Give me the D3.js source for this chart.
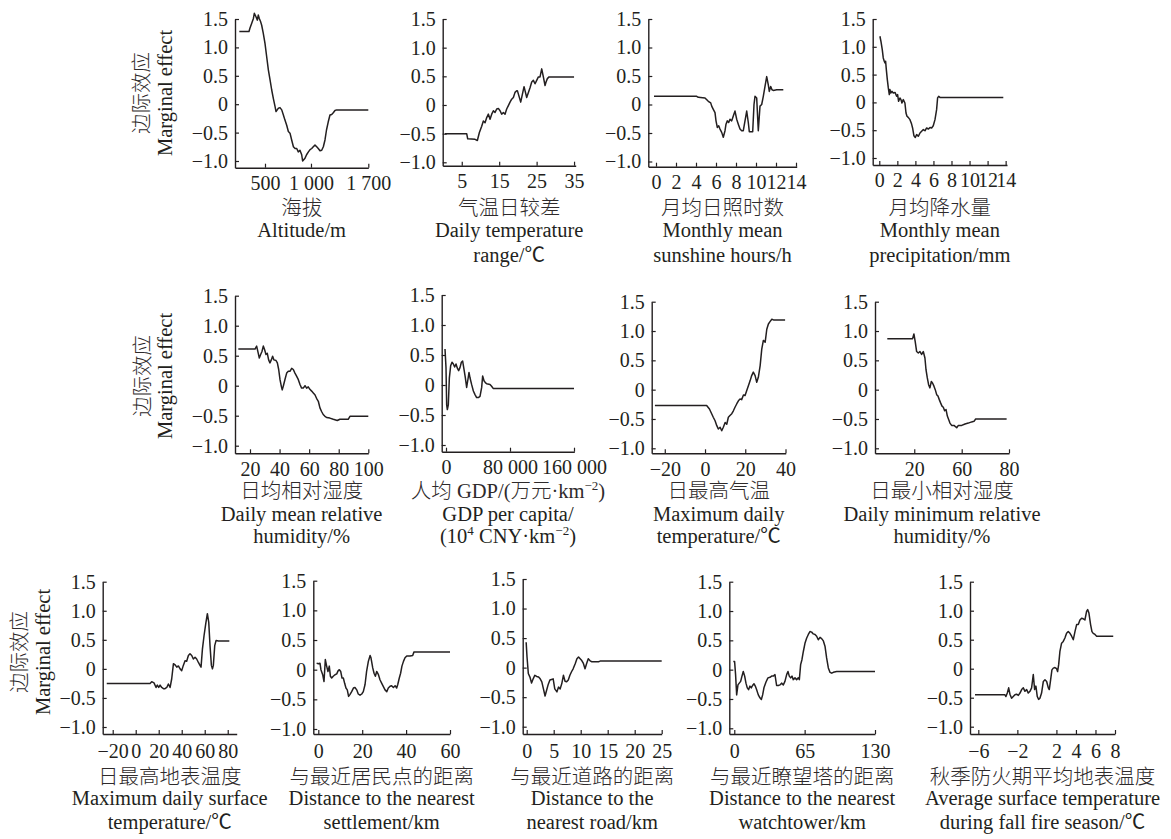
<!DOCTYPE html>
<html><head><meta charset="utf-8">
<script src="https://cdn.jsdelivr.net/npm/d3@7"></script>
<style>
html,body{margin:0;padding:0;background:#fff;}
</style></head><body>
<svg id="chart" width="1171" height="839"></svg>
<script>
// ---------------- DATA ----------------
const yTicks = [-1.0, -0.5, 0, 0.5, 1.0, 1.5];
const yTickLabels = ["−1.0", "−0.5", "0", "0.5", "1.0", "1.5"];
const yLabelZh = "边际效应";
const yLabelEn = "Marginal effect";

const altitudeX = [221,326,337,355,374,384,402,417,427,438,453,464,481,500,518,537,555,573,591,609,620,646,663,682,700,717,736,754,772,790,809,827,845,862,880,899,909,935,952,972,990,1009,1028,1049,1070,1089,1110,1131,1151,1171,1190,1211,1232,1253,1272,1293,1314,1700];
const altitudeY = [1.28,1.28,1.34,1.42,1.51,1.60,1.54,1.48,1.57,1.51,1.45,1.39,1.25,1.07,0.84,0.60,0.43,0.25,0.10,-0.04,-0.13,-0.07,-0.06,-0.10,-0.19,-0.28,-0.37,-0.48,-0.51,-0.63,-0.75,-0.78,-0.78,-0.84,-0.81,-0.89,-1.0,-0.95,-0.89,-0.84,-0.80,-0.78,-0.75,-0.72,-0.75,-0.78,-0.82,-0.81,-0.75,-0.63,-0.45,-0.31,-0.19,-0.18,-0.15,-0.11,-0.10,-0.10];
const altitudeTicks = [500, 1000, 1700];
const altitudeTickLabels = ["500", "1 000", "1 700"];

const tempRangeX = [0.53,6.32,6.59,8.55,9.17,9.71,10.33,10.77,11.22,11.67,12.11,12.56,13.0,13.45,13.89,14.34,14.78,15.23,15.67,16.12,16.56,17.0,17.45,17.9,18.34,18.79,19.23,19.68,19.86,20.75,21.64,22.35,23.24,23.69,24.13,24.58,25.02,25.47,25.91,26.36,26.8,27.25,27.52,27.87,28.32,35.0];
const tempRangeY = [-0.5,-0.5,-0.59,-0.6,-0.62,-0.48,-0.37,-0.28,-0.31,-0.22,-0.16,-0.25,-0.16,-0.10,-0.13,-0.07,-0.06,-0.10,-0.16,-0.13,-0.16,-0.07,-0.01,0.05,0.10,0.13,0.22,0.25,0.25,0.05,0.32,0.13,0.30,0.40,0.43,0.37,0.43,0.49,0.49,0.63,0.49,0.34,0.40,0.46,0.49,0.49];
const tempRangeTicks = [5, 15, 25, 35];
const tempRangeTickLabels = ["5", "15", "25", "35"];

const sunshineX = [-0.2,4.07,4.23,4.9,5.23,5.47,5.57,5.73,5.9,6.0,6.13,6.27,6.4,6.57,6.73,6.9,7.0,7.13,7.27,7.4,7.57,7.73,7.9,8.07,8.23,8.4,8.57,8.73,8.9,9.07,9.23,9.33,9.67,9.8,9.9,10.07,10.23,10.4,10.57,10.73,10.9,11.07,11.23,11.33,11.47,11.6,11.73,12.07,12.73];
const sunshineY = [0.144,0.144,0.126,0.115,0.057,0.029,-0.029,-0.086,-0.144,-0.287,-0.402,-0.374,-0.431,-0.489,-0.575,-0.46,-0.345,-0.287,-0.316,-0.259,-0.287,-0.201,-0.115,-0.259,-0.345,-0.431,-0.46,-0.46,-0.287,-0.115,-0.316,-0.477,-0.477,0,0.144,0.115,-0.46,-0.029,0,0.144,0.316,0.489,0.345,0.23,0.316,0.259,0.247,0.259,0.259];
const sunshineTicks = [0, 2, 4, 6, 8, 10, 12, 14];
const sunshineTickLabels = ["0", "2", "4", "6", "8", "10", "12", "14"];

const precipX = [0.07,0.18,0.33,0.44,0.55,0.63,0.70,0.78,0.89,1.0,1.11,1.18,1.29,1.4,1.55,1.74,1.92,2.03,2.14,2.29,2.4,2.51,2.66,2.84,2.96,3.07,3.21,3.4,3.58,3.69,3.84,3.99,4.14,4.32,4.51,4.69,4.88,5.06,5.25,5.43,5.62,5.8,5.98,6.17,6.35,6.46,6.58,6.72,13.74];
const precipY = [1.19,1.10,0.95,0.80,0.74,0.71,0.74,0.59,0.41,0.26,0.14,0.23,0.17,0.20,0.17,0.18,0.11,0.14,0.02,0.08,0.05,-0.01,0.05,-0.01,-0.19,-0.25,-0.27,-0.31,-0.39,-0.46,-0.60,-0.63,-0.58,-0.61,-0.55,-0.52,-0.49,-0.51,-0.46,-0.48,-0.45,-0.46,-0.42,-0.31,-0.13,0.08,0.11,0.09,0.09];
const precipTicks = [0, 2, 4, 6, 8, 10, 12, 14];
const precipTickLabels = ["0", "2", "4", "6", "8", "10", "12", "14"];

const meanHumX = [12.1,23.4,24.5,25.6,26.3,27.2,28.1,29,29.9,30.8,31.7,32.6,33.5,34.4,35.3,36.2,37.6,38.5,39.4,40.3,41.2,41.8,42.5,43.6,44.8,45.9,47,48.2,49.3,50.4,51.5,52.7,53.8,54.9,56,57.2,58.3,59.4,60.5,61.7,62.8,63.9,65,66.2,67.3,68.4,69.5,70.7,71.8,74,76.3,79,80.8,86.4,87.6,100];
const meanHumY = [0.61,0.61,0.66,0.54,0.46,0.52,0.57,0.66,0.6,0.52,0.54,0.43,0.38,0.43,0.49,0.43,0.42,0.38,0.27,0.1,-0.01,-0.07,-0.01,0.1,0.21,0.24,0.24,0.29,0.27,0.21,0.16,0.1,0.02,-0.04,-0.04,0,-0.04,-0.02,-0.06,-0.09,-0.12,-0.15,-0.21,-0.26,-0.37,-0.43,-0.48,-0.51,-0.53,-0.54,-0.56,-0.58,-0.56,-0.56,-0.51,-0.51];
const meanHumTicks = [20, 40, 60, 80, 100];
const meanHumTickLabels = ["20", "40", "60", "80", "100"];

const gdpX = [-1250,0,830,1670,2900,4200,5800,7500,9200,10800,12500,14200,15800,17500,19200,20800,22500,24200,25800,27500,28750,30000,32000,34200,36250,38300,40400,42500,44600,45800,47500,49200,50800,55000,57000,59200,160000];
const gdpY = [0.6,0.29,-0.33,-0.41,-0.33,0.12,0.32,0.38,0.35,0.3,0.35,0.28,0.24,0.29,0.38,0.4,0.26,0.12,-0.04,0.1,0.21,0.12,0.01,-0.1,-0.16,-0.21,-0.21,-0.19,-0.04,0.15,0.07,0.04,0.02,0.01,-0.02,-0.06,-0.06];
const gdpTicks = [0, 80000, 160000];
const gdpTickLabels = ["0", "80 000", "160 000"];

const maxTempX = [-24.9,0.8,2.2,3.3,4.1,5,5.8,6.6,7.5,8.3,9.1,10,10.8,11.6,12.4,13.3,14.1,14.9,15.8,16.6,17.4,18.2,19.1,19.9,20.7,21.6,22.4,23.2,24,24.9,25.7,26.5,27.4,28.2,29,29.9,30.7,31.5,32.3,33.2,34,39.8];
const maxTempY = [-0.27,-0.27,-0.33,-0.41,-0.47,-0.53,-0.61,-0.67,-0.64,-0.7,-0.64,-0.56,-0.59,-0.47,-0.44,-0.41,-0.36,-0.3,-0.24,-0.19,-0.16,-0.17,-0.09,-0.1,-0.02,0.07,0.15,0.24,0.3,0.24,0.125,0.21,0.41,0.69,0.84,0.81,1.03,1.12,1.16,1.2,1.19,1.19];
const maxTempTicks = [-20, 0, 20, 40];
const maxTempTickLabels = ["−20", "0", "20", "40"];

const minHumX = [-2.8,18.6,19.7,20.8,22,23.4,24.8,26.2,27.6,29,29.9,31,32.1,33.2,34.4,35.5,36.6,37.7,38.9,40,41.1,42.3,43.4,44.5,45.6,46.8,47.9,49,50.1,51.5,53.5,55.8,57.2,60,61.4,62.8,64.2,65.2,65.9,79];
const minHumY = [0.87,0.87,0.95,0.82,0.65,0.625,0.65,0.6,0.65,0.54,0.34,0.2,0.085,0.03,0.14,0.11,0.06,0,-0.085,-0.11,-0.17,-0.23,-0.28,-0.3,-0.36,-0.34,-0.45,-0.51,-0.57,-0.61,-0.61,-0.65,-0.61,-0.61,-0.585,-0.57,-0.55,-0.54,-0.5,-0.5];
const minHumTicks = [20, 60, 80];
const minHumTickLabels = ["20", "60", "80"];

const surfTempX = [-25.2,12.5,13.9,15.9,17.7,18.8,20,21.2,22.6,24.1,25.5,27,28.4,29.9,31.3,32.8,34.2,35.7,37.1,38.6,40,41.4,42.9,44.3,45.8,47.2,48.7,50.1,51.6,53,54.5,55.9,56.8,58,59.4,60.9,62.3,63.5,64.6,65.8,66.7,67.5,68.7,69.9,71.9,81.4];
const surfTempY = [-0.25,-0.25,-0.22,-0.24,-0.32,-0.28,-0.32,-0.28,-0.32,-0.34,-0.34,-0.32,-0.26,-0.32,-0.17,0.09,0.07,0.03,0.05,0,-0.03,0.06,0.14,0.13,0.23,0.26,0.23,0.17,0.2,0.17,0.11,0.06,0.03,0.34,0.57,0.78,0.95,0.8,0.4,0.06,0,0.06,0.4,0.49,0.48,0.48];
const surfTempTicks = [-20, 0, 20, 40, 60, 80];
const surfTempTickLabels = ["−20", "0", "20", "40", "60", "80"];

const settleX = [-0.76,0,0.76,1.2,2,2.6,3.2,3.8,4.4,5,5.5,6.1,6.8,7.6,8.4,9,9.6,10.2,10.8,11.4,12,12.6,13.2,13.8,14.4,15.2,16,16.7,17.5,18.2,19,19.8,20.5,21.3,22,22.8,23.6,24,24.8,25.4,26,26.6,27.4,28.1,28.9,29.6,30.4,31.2,31.9,32.7,33.4,34.2,35,35.7,36.2,36.9,37.5,38.1,38.8,39.5,40.3,41.8,43,43.6,60];
const settleY = [0.11,0.1,0.11,0,-0.085,-0.2,0.17,0.06,-0.03,0.06,-0.11,-0.14,-0.11,-0.085,-0.07,-0.02,0,-0.03,-0.14,-0.14,-0.23,-0.31,-0.34,-0.45,-0.42,-0.37,-0.31,-0.3,-0.34,-0.41,-0.43,-0.41,-0.37,-0.25,-0.03,0.14,0.24,0.2,0.03,-0.06,-0.11,-0.03,-0.085,-0.17,-0.23,-0.28,-0.34,-0.37,-0.31,-0.28,-0.27,-0.3,-0.27,-0.31,-0.25,-0.14,-0.06,0.06,0.14,0.2,0.23,0.23,0.24,0.3,0.3];
const settleTicks = [0, 20, 40, 60];
const settleTickLabels = ["0", "20", "40", "60"];

const roadX = [-0.1,0.06,0.3,0.6,0.9,1.2,1.5,1.85,2.2,2.5,2.8,3.1,3.4,3.7,4,4.3,4.6,4.9,5.2,5.6,5.9,6.2,6.5,6.8,7.1,7.4,7.7,8,8.3,8.6,9,9.3,9.6,9.9,10.2,10.5,10.8,11.1,11.4,11.7,12,12.65,13.3,13.6,25];
const roadY = [0.43,0.18,-0.1,-0.16,-0.26,-0.19,-0.13,-0.15,-0.16,-0.19,-0.24,-0.36,-0.48,-0.38,-0.28,-0.21,-0.2,-0.19,-0.36,-0.41,-0.33,-0.36,-0.27,-0.13,-0.23,-0.24,-0.21,-0.13,-0.07,-0.02,0.07,0.15,0.18,0.15,0.12,0.07,-0.02,0.07,0.15,0.12,0.1,0.1,0.1,0.11,0.11];
const roadTicks = [0, 5, 10, 15, 20, 25];
const roadTickLabels = ["0", "5", "10", "15", "20", "25"];

const towerX = [-0.9,0.3,1.2,2.2,3.4,4.6,5.9,7.1,8.3,9.6,10.8,12,13.2,14.5,15.7,16.9,18.2,19.4,20.6,22.2,23.7,25,26.2,27.4,29.3,31.1,33,34.5,36,37.6,39.1,40.7,42.2,43.7,45.3,46.8,48.4,49.6,50.8,52.1,53.3,54.5,56.1,57.6,59.1,60.1,61.3,62.5,63.8,65.3,66.9,68.4,69.9,71.5,73,74.6,76.1,77.6,79.2,80.7,82.3,83.8,85.3,86.9,88.4,90,91.5,94.6,130];
const towerY = [0.14,0.14,-0.085,-0.43,-0.26,-0.23,-0.2,-0.11,-0.03,-0.11,-0.23,-0.31,-0.34,-0.28,-0.31,-0.27,-0.24,-0.28,-0.34,-0.43,-0.48,-0.51,-0.43,-0.31,-0.21,-0.14,-0.13,-0.11,-0.11,-0.085,-0.27,-0.27,-0.26,-0.23,-0.26,-0.2,-0.085,-0.03,-0.11,-0.14,-0.11,-0.17,-0.14,-0.17,-0.14,-0.17,0.085,0.17,0.31,0.45,0.54,0.6,0.65,0.64,0.61,0.6,0.57,0.51,0.55,0.53,0.49,0.4,0.2,0.03,-0.045,-0.06,-0.045,-0.03,-0.03];
const towerTicks = [0, 65, 130];
const towerTickLabels = ["0", "65", "130"];

const fallTempX = [-6.34,-3.27,-3.17,-3.03,-2.89,-2.76,-2.59,-2.42,-2.25,-2.08,-1.9,-1.73,-1.56,-1.39,-1.22,-1.05,-0.88,-0.71,-0.54,-0.37,-0.23,-0.1,0.04,0.18,0.31,0.48,0.66,0.83,1.0,1.17,1.27,1.41,1.54,1.68,1.85,2.02,2.12,2.23,2.36,2.53,2.7,2.87,3.04,3.21,3.39,3.56,3.73,3.9,4.07,4.24,4.41,4.58,4.75,4.92,5.09,5.2,5.33,5.5,5.64,5.77,5.95,6.12,7.82];
const fallTempY = [-0.45,-0.45,-0.48,-0.42,-0.33,-0.44,-0.51,-0.48,-0.45,-0.44,-0.46,-0.42,-0.36,-0.33,-0.39,-0.36,-0.42,-0.39,-0.33,-0.1,-0.36,-0.3,-0.48,-0.53,-0.51,-0.42,-0.22,-0.19,-0.22,-0.33,-0.36,-0.19,-0.02,0.01,0.02,0,-0.05,0.07,0.3,0.44,0.47,0.53,0.61,0.64,0.61,0.56,0.5,0.64,0.76,0.76,0.84,0.87,0.86,0.84,0.99,1.02,0.96,0.76,0.64,0.61,0.59,0.56,0.56];
const fallTempTicks = [-6, -2, 2, 4, 6, 8];
const fallTempTickLabels = ["−6", "−2", "2", "4", "6", "8"];

const titlesZh = ["海拔","气温日较差","月均日照时数","月均降水量","日均相对湿度","人均 GDP/(万元·km^{−2})","日最高气温","日最小相对湿度","日最高地表温度","与最近居民点的距离","与最近道路的距离","与最近瞭望塔的距离","秋季防火期平均地表温度"];
const titlesEn = [["Altitude/m"],["Daily temperature","range/℃"],["Monthly mean","sunshine hours/h"],["Monthly mean","precipitation/mm"],["Daily mean relative","humidity/%"],["GDP per capita/","(10^{4} CNY·km^{−2})"],["Maximum daily","temperature/℃"],["Daily minimum relative","humidity/%"],["Maximum daily surface","temperature/℃"],["Distance to the nearest","settlement/km"],["Distance to the","nearest road/km"],["Distance to the nearest","watchtower/km"],["Average surface temperature","during fall fire season/℃"]];

const seriesX = [altitudeX, tempRangeX, sunshineX, precipX, meanHumX, gdpX, maxTempX, minHumX, surfTempX, settleX, roadX, towerX, fallTempX];
const seriesY = [altitudeY, tempRangeY, sunshineY, precipY, meanHumY, gdpY, maxTempY, minHumY, surfTempY, settleY, roadY, towerY, fallTempY];
const xTicks = [altitudeTicks, tempRangeTicks, sunshineTicks, precipTicks, meanHumTicks, gdpTicks, maxTempTicks, minHumTicks, surfTempTicks, settleTicks, roadTicks, towerTicks, fallTempTicks];
const xTickLabels = [altitudeTickLabels, tempRangeTickLabels, sunshineTickLabels, precipTickLabels, meanHumTickLabels, gdpTickLabels, maxTempTickLabels, minHumTickLabels, surfTempTickLabels, settleTickLabels, roadTickLabels, towerTickLabels, fallTempTickLabels];

// ---------------- LAYOUT ----------------
const layout = [
  {l:235,   r:368.3, t:19,    n:161,   b:167.7, xDom:[174,500,1000,1700], xFrac:[0,0.225,0.57,1], row:0},
  {l:442.7, r:575.7, t:19,    n:162.3, b:165.7, xDom:[-0.09,35.44], row:0},
  {l:648.3, r:796.7, t:19,    n:161.5, b:166.7, xDom:[-0.77,14.07], row:0},
  {l:872.7, r:1007,  t:19,    n:158,   b:165,   xDom:[-0.73,14.15], row:0},
  {l:235,   r:368.3, t:295.7, n:445.7, b:453.3, xDom:[9.86,100], row:1},
  {l:441.7, r:574.3, t:295,   n:445,   b:451.7, xDom:[-5375,160375], row:1},
  {l:651.7, r:785.7, t:301.7, n:448.3, b:453.3, xDom:[-26.5,40.1], row:1},
  {l:875,   r:1009,  t:301.7, n:448.3, b:453.3, xDom:[-13.2,20,60,80], xFrac:[0,0.293,0.647,1], row:1},
  {l:102.7, r:236.7, t:581.7, n:727,   b:734,   xDom:[-28.7,87.8], row:2},
  {l:313.3, r:450,   t:580.7, n:729,   b:734,   xDom:[-2.28,60], row:2},
  {l:522.7, r:661.7, t:579,   n:726.7, b:734,   xDom:[-0.74,25], row:2},
  {l:729.3, r:875,   t:581.7, n:728.3, b:734,   xDom:[-4.6,130], row:2},
  {l:970,   r:1115,  t:581.7, n:726.7, b:734,   xDom:[-6.85,8], row:2}
];
const rowStyle = [
  {pad:8,   zh:214.5, en:[236.7, 261.7], ylab:{zh:149.3, en:172, cy:93}},
  {pad:8.5, zh:497.5, en:[521, 543],     ylab:{zh:149.5, en:172, cy:376}},
  {pad:9.5, zh:783.5, en:[805, 829],     ylab:{zh:26.5,  en:50,  cy:652}}
];

const INK = "#231f20";
const ZH_INK = "#2e2a2b";
const FONT = '"Liberation Serif","Times New Roman","Noto Sans CJK SC",serif';
const FS = 20;
const FS_T = 20.5;
const svg = d3.select("#chart");
svg.append("rect").attr("width",1171).attr("height",839).attr("fill","#fff");

function richText(sel, str, fs) {
  const parts = str.split(/\^\{([^}]*)\}/);
  let cur = 0;
  parts.forEach((p, i) => {
    if (p === "") return;
    const sup = i % 2 === 1;
    const target = sup ? -8 : 0;
    const ts = sel.append("tspan").attr("font-size", sup ? 13 : fs).text(p);
    if (target !== cur) ts.attr("dy", target - cur);
    cur = target;
  });
}

layout.forEach((L, i) => {
  const rs = rowStyle[L.row];
  const g = svg.append("g");
  const xRange = L.xFrac ? L.xFrac.map(f => L.l + f * (L.r - L.l)) : [L.l, L.r];
  const x = d3.scaleLinear().domain(L.xDom).range(xRange);
  const ppu = (L.n - L.t) / 2.5;
  const yMin = -1 - (L.b - L.n) / ppu;
  const y = d3.scaleLinear().domain([yMin, 1.5]).range([L.b, L.t]);

  const labs = xTickLabels[i];
  const gx = g.append("g").attr("transform", `translate(0,${L.b})`)
    .call(d3.axisBottom(x).tickValues(xTicks[i]).tickFormat((d, k) => labs[k])
      .tickSizeInner(-4).tickSizeOuter(0).tickPadding(rs.pad));
  const gy = g.append("g").attr("transform", `translate(${L.l},0)`)
    .call(d3.axisLeft(y).tickValues(yTicks).tickFormat((d, k) => yTickLabels[k])
      .tickSizeInner(-4).tickSizeOuter(0).tickPadding(7));
  [gx, gy].forEach(a => {
    a.attr("font-family", FONT).attr("font-size", FS);
    a.selectAll("path.domain").attr("stroke", INK).attr("stroke-width", 1.4);
    a.selectAll(".tick line").attr("stroke", INK).attr("stroke-width", 1.2);
    a.selectAll("text").attr("fill", INK);
  });

  const pts = seriesX[i].map((v, k) => [v, seriesY[i][k]]);
  g.append("path").datum(pts)
    .attr("fill", "none").attr("stroke", INK).attr("stroke-width", 1.5)
    .attr("stroke-linejoin", "round")
    .attr("d", d3.line().x(d => x(d[0])).y(d => y(d[1])));

  const cx = (L.l + L.r) / 2;
  const tz = g.append("text").attr("x", cx).attr("y", rs.zh).attr("text-anchor", "middle")
    .attr("font-family", FONT).attr("font-size", FS_T).attr("font-weight", 300).attr("fill", ZH_INK);
  richText(tz, titlesZh[i], FS_T);
  titlesEn[i].forEach((line, k) => {
    const te = g.append("text").attr("x", cx).attr("y", rs.en[k]).attr("text-anchor", "middle")
      .attr("font-family", FONT).attr("font-size", FS_T).attr("fill", INK);
    richText(te, line, FS_T);
  });
});

// y-axis titles (one per row)
rowStyle.forEach(rs => {
  const yl = rs.ylab;
  svg.append("text").attr("transform", `translate(${yl.zh},${yl.cy}) rotate(-90)`)
    .attr("text-anchor", "middle").attr("font-family", FONT).attr("font-size", FS_T)
    .attr("font-weight", 300).attr("fill", ZH_INK).text(yLabelZh);
  svg.append("text").attr("transform", `translate(${yl.en},${yl.cy}) rotate(-90)`)
    .attr("text-anchor", "middle").attr("font-family", FONT).attr("font-size", FS_T)
    .attr("fill", INK).text(yLabelEn);
});
</script></body></html>
